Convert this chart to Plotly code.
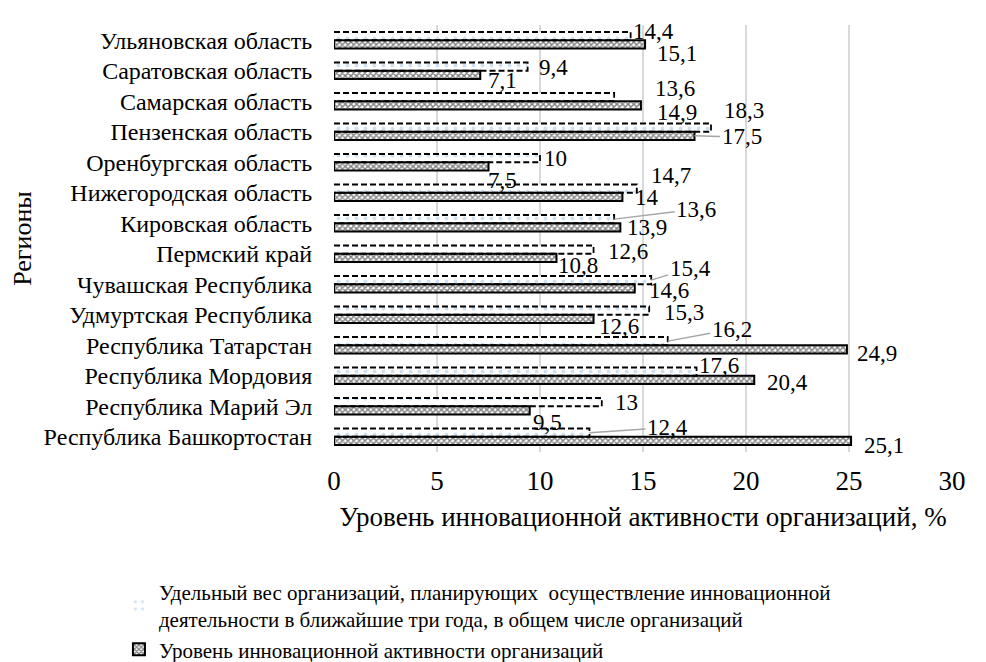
import plotly.graph_objects as go

# Data (top to bottom as in the chart)
regions = [
    "Ульяновская область", "Саратовская область", "Самарская область",
    "Пензенская область", "Оренбургская область", "Нижегородская область",
    "Кировская область", "Пермский край", "Чувашская Республика",
    "Удмуртская Республика", "Республика Татарстан", "Республика Мордовия",
    "Республика Марий Эл", "Республика Башкортостан",
]
planning = [14.4, 9.4, 13.6, 18.3, 10, 14.7, 13.6, 12.6, 15.4, 15.3, 16.2, 17.6, 13, 12.4]
activity = [15.1, 7.1, 14.9, 17.5, 7.5, 14, 13.9, 10.8, 14.6, 12.6, 24.9, 20.4, 9.5, 25.1]
x_ticks = [0, 5, 10, 15, 20, 25, 30]

name_planning = ("Удельный вес организаций, планирующих  осуществление инновационной<br>"
                 "деятельности в ближайшие три года, в общем числе организаций")
name_activity = "Уровень инновационной активности организаций"

# Style: label offsets (pixels) relative to bar end / bar centre, and leader flags
lab_plan_dx = [23, 26, 61, 33, 15, 34, 82, 34, 39, 35, 64, 22, 25, 78]
lab_plan_dy = [-5, 1, -9, -17, 0, -13, -10, 2, -12, 2, -12, -6, 0, -5]
lab_plan_leader = [0, 0, 0, 0, 0, 0, 1, 0, 1, 0, 1, 0, 0, 1]
lab_act_dx = [32, 22, 36, 47, 14, 25, 27, 22, 34, 25, 30, 33, 18, 33]
lab_act_dy = [9, 6, 7, 1, 14, 1, 0, 8, 2, 8, 4, 3, 12, 5]
lab_act_leader = [0, 0, 0, 1, 0, 0, 0, 0, 0, 0, 0, 0, 0, 0]

SERIF = "Liberation Serif"
BW = 0.27  # bar thickness in category units

n = len(regions)
ypos = [n - 1 - i for i in range(n)]  # top item gets highest position

fig = go.Figure()

fig.add_trace(go.Bar(
    y=ypos, x=planning, orientation="h", width=BW, offset=0,
    name=name_planning, legendgroup="a",
    marker=dict(color="white", line=dict(width=0),
                pattern=dict(shape=".", fgcolor="#9dc3e6", bgcolor="white", size=9, solidity=0.15)),
    hoverinfo="x",
))
fig.add_trace(go.Bar(
    y=ypos, x=activity, orientation="h", width=BW, offset=-BW,
    name=name_activity, legendgroup="b",
    marker=dict(color="white", line=dict(color="black", width=2),
                pattern=dict(shape="x", fgcolor="black", bgcolor="white", size=4, solidity=0.6)),
    hoverinfo="x",
))

# dashed outline of the planning bars, derived from the data
ox, oy = [], []
for y, v in zip(ypos, planning):
    ox += [0, v, v, 0, None]
    oy += [y + BW, y + BW, y, y, None]
fig.add_trace(go.Scatter(
    x=ox, y=oy, mode="lines", showlegend=False, hoverinfo="skip",
    line=dict(color="black", width=1.8, dash="6px,3px"),
))

annotations = []
for i in range(n):
    for vals, dxs, dys, leads, yoff in (
        (planning, lab_plan_dx, lab_plan_dy, lab_plan_leader, BW / 2),
        (activity, lab_act_dx, lab_act_dy, lab_act_leader, -BW / 2),
    ):
        v = vals[i]
        annotations.append(dict(
            x=v, y=ypos[i] + yoff, xref="x", yref="y",
            text=f"{v:g}".replace(".", ","),
            showarrow=True, arrowhead=0, arrowwidth=1.5, standoff=0,
            arrowcolor="#a6a6a6" if leads[i] else "rgba(0,0,0,0)",
            ax=dxs[i], ay=dys[i],
            font=dict(family=SERIF, size=23, color="black"),
        ))

# the page adds an 8px body margin, so the figure is 8px smaller than the window
fig.update_layout(
    width=978, height=654,
    margin=dict(l=326, r=34, t=17, b=210, autoexpand=False),
    paper_bgcolor="white", plot_bgcolor="white",
    barmode="overlay",
    font=dict(family=SERIF, color="black"),
    annotations=annotations,
    showlegend=True,
    legend=dict(
        x=-0.348, y=-0.28,
        xanchor="left", yanchor="top",
        font=dict(family=SERIF, size=21, color="black"),
        tracegroupgap=0, traceorder="normal",
        bgcolor="rgba(0,0,0,0)",
    ),
    xaxis=dict(
        range=[0, 30], tickvals=x_ticks, ticktext=[str(t) for t in x_ticks],
        showgrid=True, gridcolor="#d9d9d9", gridwidth=1.5,
        zeroline=False, showline=False,
        ticks="outside", ticklen=5, tickcolor="rgba(0,0,0,0)",
        tickfont=dict(family=SERIF, size=27),
        automargin=False,
        title=dict(text="Уровень инновационной активности организаций, %",
                   font=dict(family=SERIF, size=27), standoff=11),
    ),
    yaxis=dict(
        range=[-0.5, n - 0.5], tickvals=ypos, ticktext=regions,
        showgrid=False, zeroline=False, showline=False,
        ticks="outside", ticklen=16, tickcolor="rgba(0,0,0,0)",
        tickfont=dict(family=SERIF, size=24),
        automargin=False,
        title=dict(text="Регионы", font=dict(family=SERIF, size=26), standoff=6),
    ),
)

fig.write_html("out.html")
